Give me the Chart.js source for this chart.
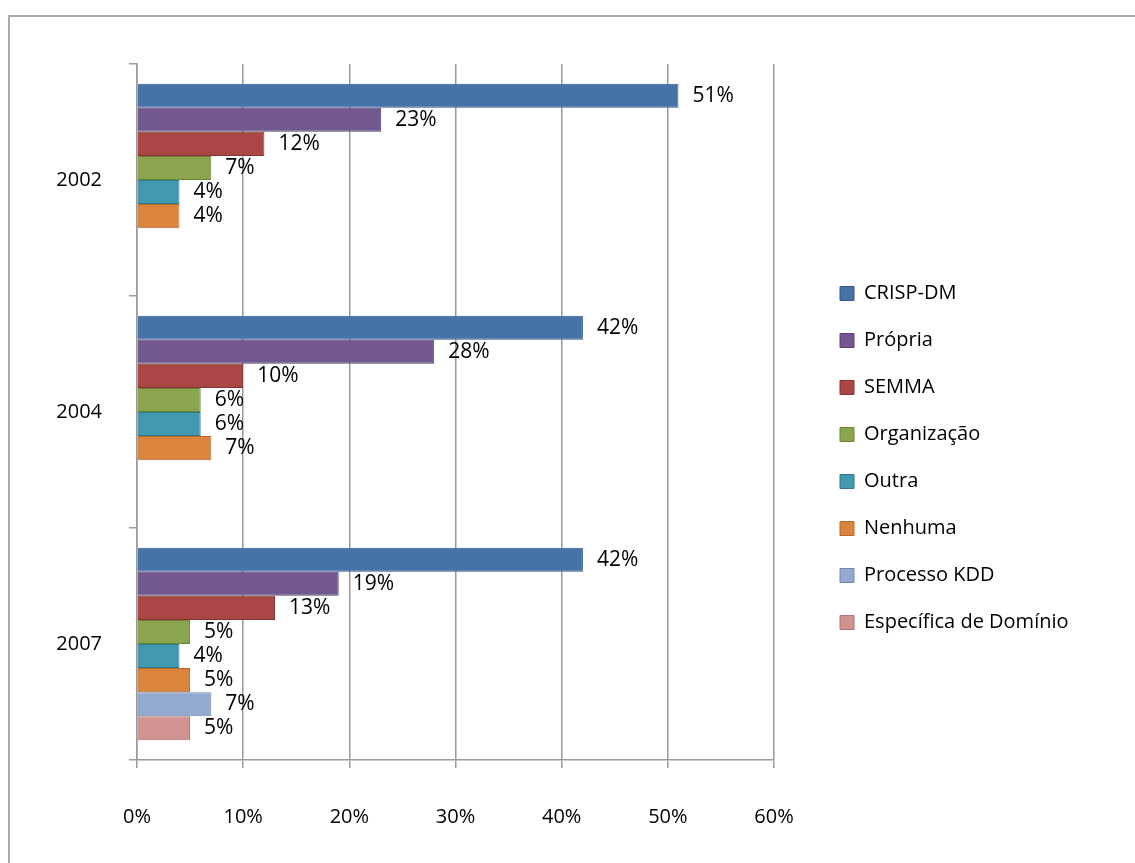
<!DOCTYPE html>
<html>
<head>
<meta charset="utf-8">
<script src="https://cdn.jsdelivr.net/npm/chart.js@4.4.1/dist/chart.umd.min.js"></script>
<style>
  body { margin: 0; background: #fff; }
  #wrap { position: relative; width: 1135px; height: 863px; overflow: hidden; }
  #frame { position: absolute; left: 8px; top: 15px; width: 1200px; height: 900px;
           border-left: 2px solid #aaa; border-top: 2px solid #aaa; }
  #myChart { position: absolute; left: 0; top: 0; }
</style>
</head>
<body>
<div id="wrap">
  <div id="frame"></div>
  <canvas id="myChart" width="1135" height="863"></canvas>
</div>
<script>
let anos = ['2002', '2004', '2007'];
let seriesNames = ['CRISP-DM', 'Própria', 'SEMMA', 'Organização', 'Outra', 'Nenhuma', 'Processo KDD', 'Específica de Domínio'];
let crispDm = [51, 42, 42];
let propria = [23, 28, 19];
let semma = [12, 10, 13];
let organizacao = [7, 6, 5];
let outra = [4, 6, 4];
let nenhuma = [4, 7, 5];
let processoKdd = [null, null, 7];
let especifica = [null, null, 5];
let xTicks = [0, 10, 20, 30, 40, 50, 60];

let cores = ['#4572A7', '#71588F', '#AA4643', '#89A54E', '#4198AF', '#DB843D', '#93A9CF', '#D19392'];
let bordas = ['#35598a', '#584470', '#873533', '#6c833b', '#30798c', '#b56a2c', '#7389b0', '#ae7372'];
let valores = [crispDm, propria, semma, organizacao, outra, nenhuma, processoKdd, especifica];

let fonte = 'Open Sans';
let tam = 20;

// largura do maior texto da legenda, para posicionar a legenda
let mctx = document.createElement('canvas').getContext('2d');
mctx.font = tam + 'px "' + fonte + '"';
let maxW = 0;
seriesNames.forEach(n => { maxW = Math.max(maxW, mctx.measureText(n).width); });
let legPad = 27;
let legLeft = 813;
let legWidth = legPad + 14 + tam / 2 + maxW + 10;
let padRight = Math.max(0, 1135 - legLeft - legWidth);

let rotulos = {
    id: 'rotulos',
    afterDatasetsDraw(chart) {
        let ctx = chart.ctx;
        ctx.save();
        ctx.font = '21px "' + fonte + '"';
        ctx.fillStyle = '#000';
        ctx.textAlign = 'left';
        ctx.textBaseline = 'middle';
        chart.data.datasets.forEach((ds, i) => {
            let meta = chart.getDatasetMeta(i);
            meta.data.forEach((el, j) => {
                let v = ds.data[j];
                if (v === null || v === undefined) return;
                ctx.fillText(v + '%', el.x + 14, el.y);
            });
        });
        ctx.restore();
    }
};

let ctx = document.getElementById('myChart').getContext('2d');

let chart_metodologias = new Chart(ctx, {
    type: 'bar',
    data: {
        labels: anos,
        datasets: seriesNames.map((nome, i) => ({
            label: nome,
            data: valores[i],
            backgroundColor: cores[i],
            borderColor: bordas[i],
            borderWidth: 1,
            categoryPercentage: 0.83,
            barPercentage: 1.0
        }))
    },
    options: {
        indexAxis: 'y',
        responsive: false,
        animation: false,
        devicePixelRatio: 1,
        layout: {
            padding: { top: 64, left: 0, right: padRight, bottom: 11 }
        },
        plugins: {
            legend: {
                position: 'right',
                align: 'center',
                maxWidth: 400,
                labels: {
                    boxWidth: 14,
                    boxHeight: 14,
                    padding: legPad,
                    color: '#000',
                    font: { family: fonte, size: tam }
                }
            },
            tooltip: { enabled: false }
        },
        scales: {
            x: {
                min: 0,
                max: 60,
                afterBuildTicks: s => { s.ticks = xTicks.map(v => ({ value: v })); },
                afterFit: s => { s.height = 92; },
                ticks: {
                    callback: v => v + '%',
                    color: '#000',
                    padding: 37,
                    font: { family: fonte, size: tam }
                },
                grid: { color: '#9a9a9a', lineWidth: 1.5, tickLength: 8 },
                border: { color: '#9a9a9a', width: 1.5 }
            },
            y: {
                afterFit: s => { s.width = 137; },
                ticks: {
                    color: '#000',
                    padding: 27,
                    font: { family: fonte, size: tam }
                },
                grid: { drawOnChartArea: false, color: '#9a9a9a', lineWidth: 1.5, tickLength: 8 },
                border: { color: '#9a9a9a', width: 1.5 }
            },
            yR: {
                type: 'linear',
                position: 'right',
                display: true,
                afterFit: s => { s.width = 39; },
                ticks: { display: false },
                grid: { display: false },
                border: { display: false }
            }
        }
    },
    plugins: [rotulos]
});
</script>
</body>
</html>
